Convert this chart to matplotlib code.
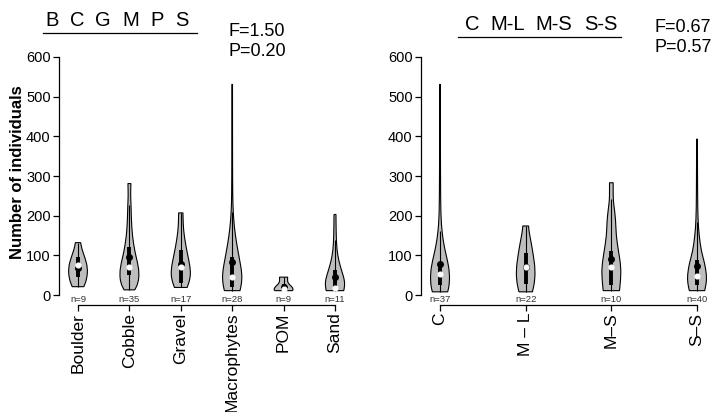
import numpy as np
import matplotlib
matplotlib.use("Agg")
import matplotlib.pyplot as plt
from matplotlib.path import Path
from matplotlib.patches import PathPatch
from matplotlib.lines import Line2D

plt.rcParams['font.family'] = ['Liberation Sans', 'DejaVu Sans']

# ---------------- substrate panel ----------------
hab_labels = ['Boulder', 'Cobble', 'Gravel', 'Macrophytes', 'POM', 'Sand']
hab_n = [9, 35, 17, 28, 9, 11]
hab_mean = [67, 95, 78, 82, 21, 45]
hab_median = [75, 70, 70, 46, 14, 17]
hab_q1 = [45, 50, 30, 21, 12, 13]
hab_q3 = [95, 122, 113, 96, 28, 63]
hab_wlo = [21, 13, 19, 11, 11, 11]
hab_whi = [132, 227, 207, 208, 45, 138]
# density outline per group: value levels and relative half-widths
hab_levels = [
    [21, 40, 68, 95, 115, 132],
    [13, 30, 55, 80, 110, 150, 190, 225, 250, 281],
    [19, 40, 63, 90, 120, 150, 175, 207],
    [11, 30, 55, 90, 130, 170, 210, 250, 350, 531],
    [11, 15, 22, 30, 38, 45],
    [11, 25, 40, 60, 85, 113, 150, 203],
]
hab_widths = [
    [0.6, 0.9, 1.0, 0.7, 0.4, 0.27],
    [0.55, 0.9, 1.0, 0.85, 0.55, 0.3, 0.2, 0.17, 0.12, 0.15],
    [0.65, 0.95, 1.0, 0.8, 0.55, 0.35, 0.25, 0.22],
    [0.8, 0.97, 1.0, 0.75, 0.45, 0.22, 0.1, 0.05, 0.035, 0.03],
    [0.9, 1.0, 0.8, 0.45, 0.4, 0.42],
    [0.9, 1.0, 0.95, 0.7, 0.4, 0.2, 0.12, 0.1],
]

# ---------------- channel-type panel ----------------
ch_labels = ['C', 'M \u2013 L', 'M\u2013S', 'S\u2013S']
ch_n = [37, 22, 10, 40]
ch_mean = [78, 70, 92, 74]
ch_median = [52, 70, 71, 49]
ch_q1 = [25, 29, 25, 25]
ch_q3 = [80, 106, 112, 88]
ch_wlo = [8, 8, 11, 11]
ch_whi = [162, 174, 242, 183]
ch_levels = [
    [8, 25, 55, 85, 120, 156, 200, 300, 531],
    [8, 30, 63, 100, 135, 160, 174],
    [11, 40, 71, 110, 150, 189, 220, 239, 260, 283],
    [11, 30, 50, 80, 110, 150, 189, 250, 393],
]
ch_widths = [
    [0.8, 0.97, 1.0, 0.8, 0.45, 0.22, 0.08, 0.05, 0.03],
    [0.7, 0.92, 1.0, 0.8, 0.55, 0.35, 0.3],
    [0.85, 0.97, 1.0, 0.75, 0.5, 0.45, 0.3, 0.2, 0.19, 0.19],
    [0.8, 0.97, 1.0, 0.8, 0.45, 0.22, 0.1, 0.06, 0.04],
]

left_title = ['B', 'C', 'G', 'M', 'P', 'S']
right_title = ['C', 'M-L', 'M-S', 'S-S']
left_stats = ['F=1.50', 'P=0.20']
right_stats = ['F=0.67', 'P=0.57']

W, H = 712, 412
fig = plt.figure(figsize=(W / 100, H / 100), dpi=100)


def px(x, y):
    """pixel position (from top-left) to figure fraction"""
    return x / W, 1 - y / H


def smooth_curve(pts):
    verts = [pts[0]]
    codes = [Path.MOVETO]
    if len(pts) > 2:
        verts.append(((pts[0][0] + pts[1][0]) / 2, (pts[0][1] + pts[1][1]) / 2))
        codes.append(Path.LINETO)
        for i in range(1, len(pts) - 1):
            nxt = pts[i + 1]
            verts.append(pts[i])
            verts.append(((pts[i][0] + nxt[0]) / 2, (pts[i][1] + nxt[1]) / 2))
            codes += [Path.CURVE3, Path.CURVE3]
    verts.append(pts[-1])
    codes.append(Path.LINETO)
    return verts, codes


def violin(ax, pos, levels, widths, half, stats):
    right = [(pos + w * half, v) for v, w in zip(levels, widths)]
    left = [(pos - w * half, v) for v, w in zip(levels[::-1], widths[::-1])]
    v1, c1 = smooth_curve(right)
    v2, c2 = smooth_curve(left)
    c2[0] = Path.LINETO
    verts = v1 + v2 + [left[-1]]
    codes = c1 + c2 + [Path.CLOSEPOLY]
    ax.add_patch(PathPatch(Path(verts, codes), facecolor='#bebebe',
                           edgecolor='black', lw=0.8, zorder=2))
    mean, median, q1, q3, wlo, whi = stats
    ax.plot([pos, pos], [wlo, whi], color='black', lw=0.8, zorder=3,
            solid_capstyle='butt')
    ax.plot([pos, pos], [q1, q3], color='black', lw=2.8, zorder=3,
            solid_capstyle='butt')
    ax.plot([pos], [mean], 'o', color='black', ms=4.0, zorder=4)
    ax.plot([pos], [median], 'o', color='white', ms=3.4, mec='white', zorder=5)


def panel(rect, labels, n, means, medians, q1, q3, wlo, whi, levels, widths,
          xlim, half):
    ax = fig.add_axes(rect)
    ax.set_xlim(*xlim)
    ax.set_ylim(-25.2, 600)
    for s in ['top', 'right']:
        ax.spines[s].set_visible(False)
    ax.spines['left'].set_bounds(0, 600)
    ax.spines['bottom'].set_bounds(1, len(labels))
    for s in ['left', 'bottom']:
        ax.spines[s].set_linewidth(0.9)
    pos = np.arange(1, len(labels) + 1)
    for i, p in enumerate(pos):
        violin(ax, p, levels[i], widths[i], half,
               (means[i], medians[i], q1[i], q3[i], wlo[i], whi[i]))
        ax.text(p, -1, f'n={n[i]}', ha='center', va='top', fontsize=6.8,
                color='#333333')
    ax.set_yticks(np.arange(0, 601, 100))
    ax.set_xticks(pos)
    ax.set_xticklabels(labels, rotation=90, fontsize=12.5)
    ax.tick_params(axis='y', labelsize=10.5, length=4, width=0.9, pad=2)
    ax.tick_params(axis='x', length=4, width=0.9, pad=1.5)
    return ax


axL = panel([59 / W, 107 / H, 295 / W, 248 / H], hab_labels, hab_n, hab_mean,
            hab_median, hab_q1, hab_q3, hab_wlo, hab_whi, hab_levels,
            hab_widths, (0.63, 6.37), 0.19)
axR = panel([421 / W, 107 / H, 291 / W, 248 / H], ch_labels, ch_n, ch_mean,
            ch_median, ch_q1, ch_q3, ch_wlo, ch_whi, ch_levels,
            ch_widths, (0.778, 4.175), 0.112)

fig.text(*px(18, 172), 'Number of individuals', rotation=90, ha='center',
         va='center', fontsize=12, fontweight='bold')

# group-code headers with underline
for t, x in zip(left_title, [52, 77, 103, 131, 157, 182]):
    fig.text(*px(x, 21), t, ha='center', va='center', fontsize=14.5)
fig.add_artist(Line2D([43 / W, 197 / W], [1 - 33 / H, 1 - 33 / H],
                      color='black', lw=0.9))
for t, x in zip(right_title, [472, 508, 554, 601]):
    fig.text(*px(x, 24), t, ha='center', va='center', fontsize=14.5)
fig.add_artist(Line2D([458 / W, 621 / W], [1 - 37 / H, 1 - 37 / H],
                      color='black', lw=0.9))

for t, y in zip(left_stats, [31, 52]):
    fig.text(*px(229, y), t, ha='left', va='center', fontsize=13)
for t, y in zip(right_stats, [28, 48]):
    fig.text(*px(654, y), t, ha='left', va='center', fontsize=13)

fig.savefig('out.png', dpi=100)
